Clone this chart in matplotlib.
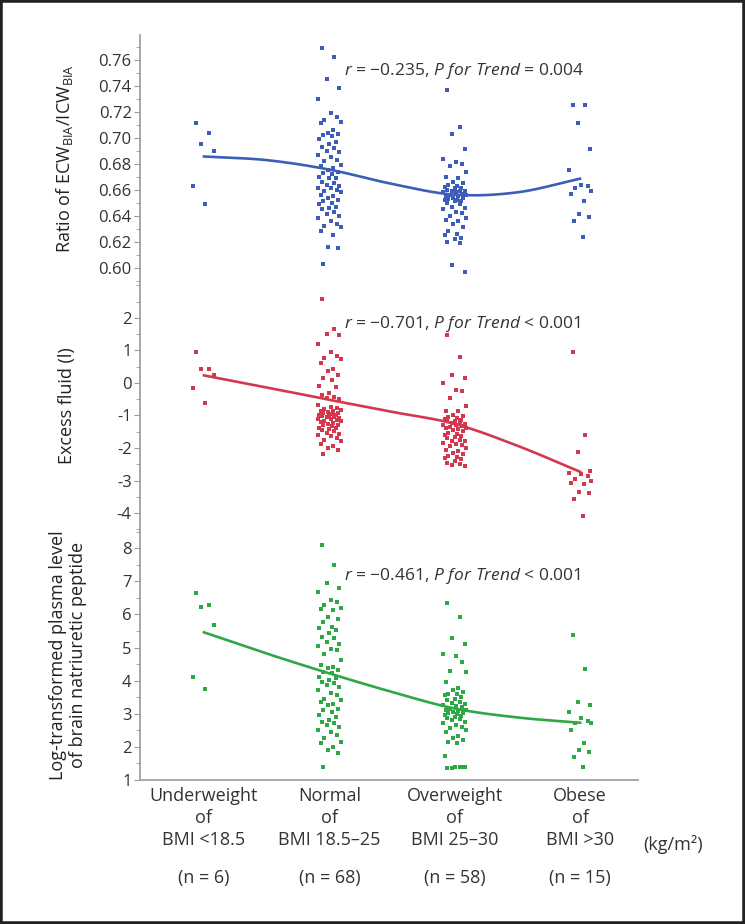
import numpy as np
import matplotlib
matplotlib.use("Agg")
import matplotlib.pyplot as plt
from matplotlib.patches import Rectangle
from matplotlib.ticker import MultipleLocator, FixedLocator

plt.rcParams['font.family'] = ['Open Sans', 'DejaVu Sans']
plt.rcParams['mathtext.fontset'] = 'custom'
plt.rcParams['mathtext.rm'] = 'Open Sans'
plt.rcParams['mathtext.it'] = 'Open Sans:italic'
plt.rcParams['axes.unicode_minus'] = False

# categories
categories = ["Underweight\nof\nBMI <18.5", "Normal\nof\nBMI 18.5\u201325",
              "Overweight\nof\nBMI 25\u201330", "Obese\nof\nBMI >30"]
n_labels = ["(n = 6)", "(n = 68)", "(n = 58)", "(n = 15)"]

# ECW/ICW ratio, per group
ratio_under = [0.711, 0.704, 0.695, 0.690, 0.663, 0.649]
ratio_normal = [0.769, 0.762, 0.745, 0.738, 0.730, 0.719, 0.716, 0.714, 0.712, 0.711,
                0.706, 0.704, 0.703, 0.702, 0.701, 0.699, 0.697, 0.695, 0.693, 0.692,
                0.690, 0.689, 0.687, 0.685, 0.683, 0.682, 0.679, 0.678, 0.677, 0.675,
                0.674, 0.673, 0.672, 0.670, 0.669, 0.669, 0.666, 0.665, 0.664, 0.663,
                0.661, 0.661, 0.660, 0.659, 0.658, 0.656, 0.655, 0.654, 0.652, 0.651,
                0.650, 0.649, 0.647, 0.646, 0.645, 0.643, 0.641, 0.640, 0.638, 0.636,
                0.634, 0.632, 0.631, 0.628, 0.625, 0.616, 0.615, 0.603]
ratio_over = [0.737, 0.708, 0.703, 0.691, 0.684, 0.681, 0.680, 0.678, 0.674, 0.670,
              0.669, 0.666, 0.665, 0.664, 0.663, 0.662, 0.661, 0.661, 0.660, 0.659,
              0.659, 0.659, 0.658, 0.658, 0.657, 0.656, 0.656, 0.655, 0.655, 0.654,
              0.654, 0.653, 0.652, 0.652, 0.651, 0.651, 0.650, 0.649, 0.647, 0.646,
              0.645, 0.643, 0.642, 0.640, 0.638, 0.637, 0.636, 0.634, 0.631, 0.628,
              0.626, 0.625, 0.623, 0.622, 0.620, 0.619, 0.602, 0.597]
ratio_obese = [0.725, 0.725, 0.711, 0.691, 0.675, 0.664, 0.663, 0.661, 0.659, 0.657,
               0.651, 0.641, 0.639, 0.636, 0.624]

# excess fluid (l)
fluid_under = [0.94, 0.44, 0.42, 0.25, -0.16, -0.62]
fluid_normal = [2.59, 1.67, 1.49, 1.47, 1.21, 0.94, 0.84, 0.78, 0.74, 0.60,
                0.43, 0.37, 0.25, 0.14, 0.09, -0.08, -0.14, -0.31, -0.36, -0.42,
                -0.47, -0.49, -0.69, -0.75, -0.77, -0.79, -0.82, -0.85, -0.87, -0.90,
                -0.93, -0.94, -0.96, -0.98, -1.00, -1.01, -1.03, -1.05, -1.06, -1.08,
                -1.10, -1.11, -1.13, -1.16, -1.18, -1.20, -1.23, -1.26, -1.28, -1.30,
                -1.33, -1.38, -1.40, -1.43, -1.46, -1.49, -1.54, -1.57, -1.61, -1.64,
                -1.69, -1.74, -1.79, -1.87, -1.94, -2.00, -2.05, -2.20]
fluid_over = [1.47, 0.81, 0.25, 0.14, -0.01, -0.21, -0.26, -0.47, -0.72, -0.85,
              -0.87, -0.98, -1.03, -1.06, -1.08, -1.10, -1.13, -1.16, -1.18, -1.20,
              -1.23, -1.26, -1.28, -1.30, -1.33, -1.36, -1.38, -1.40, -1.43, -1.46,
              -1.49, -1.54, -1.57, -1.59, -1.64, -1.67, -1.69, -1.74, -1.77, -1.79,
              -1.84, -1.89, -1.91, -1.94, -2.00, -2.05, -2.10, -2.15, -2.20, -2.25,
              -2.28, -2.30, -2.35, -2.40, -2.46, -2.49, -2.53, -2.56]
fluid_obese = [0.94, -1.61, -2.12, -2.71, -2.76, -2.81, -2.86, -2.96, -3.02, -3.07,
               -3.12, -3.34, -3.37, -3.57, -4.09]

# log-transformed BNP
bnp_under = [6.65, 6.28, 6.23, 5.68, 4.12, 3.75]
bnp_normal = [8.09, 7.49, 6.95, 6.81, 6.68, 6.43, 6.38, 6.28, 6.21, 6.15,
              6.13, 5.93, 5.85, 5.78, 5.63, 5.58, 5.53, 5.43, 5.32, 5.28,
              5.17, 5.12, 5.04, 4.97, 4.92, 4.82, 4.62, 4.47, 4.42, 4.37,
              4.32, 4.27, 4.22, 4.12, 4.07, 4.02, 3.97, 3.92, 3.87, 3.81,
              3.72, 3.63, 3.56, 3.46, 3.41, 3.36, 3.31, 3.26, 3.16, 3.11,
              3.06, 2.96, 2.91, 2.81, 2.76, 2.71, 2.66, 2.61, 2.51, 2.46,
              2.36, 2.26, 2.16, 2.11, 2.00, 1.90, 1.82, 1.38]
bnp_over = [6.35, 5.91, 5.28, 5.12, 4.82, 4.74, 4.57, 4.30, 4.27, 3.97,
            3.77, 3.72, 3.66, 3.61, 3.59, 3.56, 3.51, 3.46, 3.41, 3.36,
            3.33, 3.31, 3.26, 3.23, 3.21, 3.16, 3.13, 3.11, 3.09, 3.06,
            3.03, 3.01, 2.99, 2.96, 2.93, 2.91, 2.86, 2.83, 2.81, 2.76,
            2.71, 2.66, 2.61, 2.56, 2.51, 2.46, 2.33, 2.26, 2.21, 2.16,
            2.11, 1.72, 1.40, 1.38, 1.36, 1.38, 1.35, 1.38]
bnp_obese = [5.37, 4.34, 3.36, 3.26, 3.06, 2.86, 2.79, 2.73, 2.71, 2.51,
             2.11, 1.90, 1.85, 1.70, 1.40]

# trend line read at half-group steps (1, 1.5, ..., 4)
trend_x = [1, 1.5, 2, 2.5, 3, 3.5, 4]
trend_ratio = [0.6856, 0.6828, 0.6755, 0.6645, 0.6562, 0.6580, 0.6685]
trend_fluid = [0.23, -0.14, -0.52, -0.89, -1.26, -1.93, -2.73]
trend_bnp = [5.46, 4.82, 4.22, 3.66, 3.16, 2.89, 2.73]

stats_text = ["$\\it{r}$ = \u22120.235, $\\it{P\\ for\\ Trend}$ = 0.004",
              "$\\it{r}$ = \u22120.701, $\\it{P\\ for\\ Trend}$ < 0.001",
              "$\\it{r}$ = \u22120.461, $\\it{P\\ for\\ Trend}$ < 0.001"]

# small fixed horizontal spread so the dots don't overlap
spread = [-0.06, 0.04, -0.02, 0.08, -0.09, 0.01, 0.06, -0.04, 0.09, -0.07,
          0.03, -0.01, 0.07, -0.05, 0.02, -0.08, 0.05, 0.0]


def smooth_curve(xk, yk, num=40):
    # cubic hermite through the read points, slopes from finite differences
    xk = np.asarray(xk, float)
    yk = np.asarray(yk, float)
    m = np.gradient(yk, xk)
    xs, ys = [], []
    for j in range(len(xk) - 1):
        h = xk[j + 1] - xk[j]
        t = np.linspace(0, 1, num)
        h00 = 2 * t**3 - 3 * t**2 + 1
        h10 = t**3 - 2 * t**2 + t
        h01 = -2 * t**3 + 3 * t**2
        h11 = t**3 - t**2
        xs.append(xk[j] + t * h)
        ys.append(h00 * yk[j] + h10 * h * m[j] + h01 * yk[j + 1] + h11 * h * m[j + 1])
    return np.concatenate(xs), np.concatenate(ys)


panels = [
    dict(groups=[ratio_under, ratio_normal, ratio_over, ratio_obese], trend=trend_ratio,
         color='#3b5fb8', ylim=(0.589, 0.779), ticks=np.arange(0.60, 0.765, 0.02),
         minor=0.01, fmt='{:.2f}', lab_x=-0.131,
         ylabel=r"Ratio of ECW$_{\mathrm{BIA}}$/ICW$_{\mathrm{BIA}}$", text_y=0.7515),
    dict(groups=[fluid_under, fluid_normal, fluid_over, fluid_obese], trend=trend_fluid,
         color='#d4384f', ylim=(-4.52, 3.1), ticks=np.arange(-4, 3, 1),
         minor=0.5, fmt='{:.0f}', lab_x=-0.128,
         ylabel="Excess fluid (l)", text_y=1.82),
    dict(groups=[bnp_under, bnp_normal, bnp_over, bnp_obese], trend=trend_bnp,
         color='#2ea844', ylim=(1, 8.55), ticks=np.arange(1, 9, 1),
         minor=0.5, fmt='{:.0f}', lab_x=-0.106,
         ylabel="Log-transformed plasma level\nof brain natriuretic peptide", text_y=7.15),
]

fig = plt.figure(figsize=(7.45, 9.24), dpi=100)
left, right = 0.188, 0.856
bounds = [(0.6948, 0.962), (0.4264, 0.6948), (0.1558, 0.4264)]
xpos = np.arange(1, 5)
gray = '#9a9a9a'

for i, (p, (b, t)) in enumerate(zip(panels, bounds)):
    ax = fig.add_axes([left, b, right - left, t - b])
    for k, vals in enumerate(p['groups']):
        xs = [xpos[k] + spread[j % len(spread)] for j in range(len(vals))]
        ax.scatter(xs, vals, s=6, marker='s', color=p['color'], linewidths=0, zorder=3)
    cx, cy = smooth_curve(trend_x, p['trend'])
    ax.plot(cx, cy, color=p['color'], lw=1.9, zorder=4)

    ax.set_xlim(0.49, 4.46)
    ax.set_ylim(*p['ylim'])
    ax.yaxis.set_major_locator(FixedLocator(p['ticks']))
    ax.yaxis.set_minor_locator(MultipleLocator(p['minor']))
    ax.yaxis.set_major_formatter(plt.FuncFormatter(lambda v, pos, f=p['fmt']: f.format(v)))
    ax.tick_params(axis='y', which='major', length=4, color=gray, labelsize=12,
                   labelcolor='#333333', pad=2)
    ax.tick_params(axis='y', which='minor', length=3, color=gray)
    for s in ['top', 'right']:
        ax.spines[s].set_visible(False)
    ax.spines['left'].set_color(gray)
    ax.spines['left'].set_linewidth(1.2)
    ax.set_ylabel(p['ylabel'], fontsize=13, color='#222222', linespacing=1.15)
    ax.yaxis.set_label_coords(p['lab_x'], 0.5)
    ax.text(2.12, p['text_y'], stats_text[i], fontsize=12.5, color='#333333',
            ha='left', va='center', zorder=5)
    if i < 2:
        ax.spines['bottom'].set_visible(False)
        ax.set_xticks([])
    else:
        ax.spines['bottom'].set_color(gray)
        ax.spines['bottom'].set_linewidth(1.2)
        ax.set_xticks(xpos)
        ax.set_xticklabels(categories, fontsize=13, color='#333333', linespacing=1.3)
        ax.tick_params(axis='x', length=0, pad=5)
        for k, lab in enumerate(n_labels):
            ax.text(xpos[k], -0.392, lab, transform=ax.get_xaxis_transform(),
                    ha='center', va='center', fontsize=13, color='#333333')
        ax.text(4.74, -0.256, "(kg/m\u00b2)", transform=ax.get_xaxis_transform(),
                ha='center', va='center', fontsize=13, color='#333333')

fig.patches.append(Rectangle((0, 0), 1, 1, transform=fig.transFigure, fill=False,
                             edgecolor='#222222', linewidth=4))

fig.savefig("out.png", dpi=100)
